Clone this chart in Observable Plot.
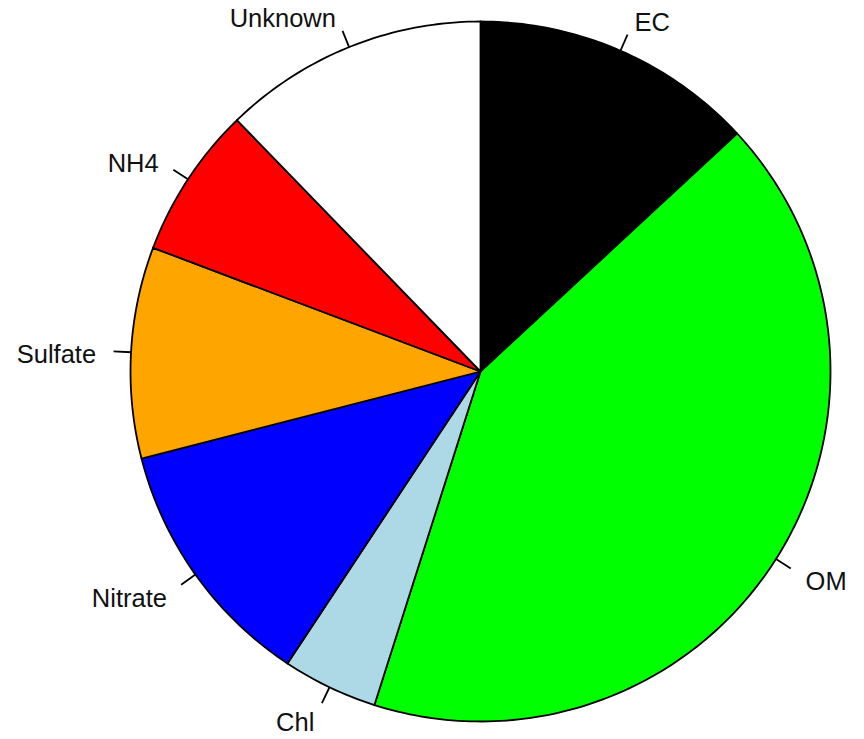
<!DOCTYPE html>
<html>
<head>
<meta charset="utf-8">
<script src="https://cdn.jsdelivr.net/npm/d3@7"></script>
<script src="https://cdn.jsdelivr.net/npm/@observablehq/plot@0.6"></script>
<style>
  html, body { margin: 0; padding: 0; background: #ffffff; }
  #chart svg { display: block; }
</style>
</head>
<body>
<div id="chart"></div>
<script>
// Data (percent share of each component, clockwise from 12 o'clock)
const labels = ["EC", "OM", "Chl", "Nitrate", "Sulfate", "NH4", "Unknown"];
const values = [13.1, 41.8, 4.4, 11.7, 9.75, 7.0, 12.25];
const colors = ["#000000", "#00ff00", "#add8e6", "#0000ff", "#ffa500", "#ff0000", "#ffffff"];

const total = d3.sum(values);
// Build slices (angles measured clockwise from north, in radians)
let acc = 0;
const slices = labels.map((label, i) => {
  const a0 = acc / total * 2 * Math.PI;
  acc += values[i];
  const a1 = acc / total * 2 * Math.PI;
  return {label, value: values[i], color: colors[i], a0, a1, mid: (a0 + a1) / 2};
});

// Polygon vertices for each wedge (unit circle data space)
const wedgePts = [];
for (const s of slices) {
  wedgePts.push({label: s.label, color: s.color, x: 0, y: 0});
  const n = Math.max(2, Math.ceil((s.a1 - s.a0) / (Math.PI / 180)));
  for (let k = 0; k <= n; k++) {
    const a = s.a0 + (s.a1 - s.a0) * k / n;
    wedgePts.push({label: s.label, color: s.color, x: Math.sin(a), y: Math.cos(a)});
  }
  wedgePts.push({label: s.label, color: s.color, x: 0, y: 0});
}

const ticks = slices.map(s => ({
  label: s.label,
  x1: Math.sin(s.mid), y1: Math.cos(s.mid),
  x2: 1.05 * Math.sin(s.mid), y2: 1.05 * Math.cos(s.mid)
}));
const textPts = slices.map(s => ({
  label: s.label, x: 1.1 * Math.sin(s.mid), y: 1.1 * Math.cos(s.mid)
}));

const W = 864, H = 739, cx = 480, cy = 371, R = 350;
const font = "Liberation Sans, Arial, sans-serif";

const chart = Plot.plot({
  width: W,
  height: H,
  margin: 0,
  x: {domain: [-cx / R, (W - cx) / R], axis: null},
  y: {domain: [-(H - cy) / R, cy / R], axis: null},
  color: {type: "identity"},
  style: {background: "#ffffff", overflow: "visible"},
  marks: [
    Plot.line(wedgePts, {
      x: "x", y: "y", z: "label",
      fill: "color", stroke: "#000000", strokeWidth: 1.8,
      strokeLinejoin: "round", curve: "linear"
    }),
    Plot.link(ticks, {
      x1: "x1", y1: "y1", x2: "x2", y2: "y2",
      stroke: "#000000", strokeWidth: 1.8
    }),
    Plot.text(textPts.filter(d => d.x >= 0), {
      x: "x", y: "y", text: "label", textAnchor: "start", dy: 4,
      fontSize: 25.5, fontFamily: font, fill: "#111111"
    }),
    Plot.text(textPts.filter(d => d.x < 0), {
      x: "x", y: "y", text: "label", textAnchor: "end", dy: 4,
      fontSize: 25.5, fontFamily: font, fill: "#111111"
    })
  ]
});
document.getElementById("chart").appendChild(chart);
</script>
</body>
</html>
